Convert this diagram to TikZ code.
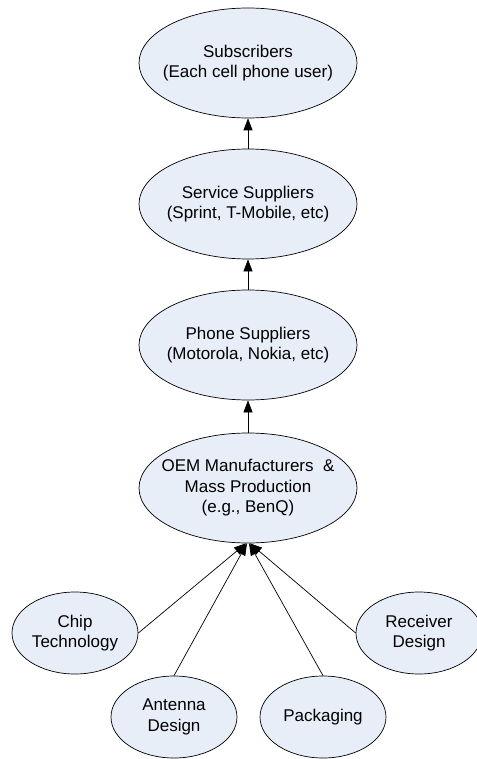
\documentclass[tikz,border=0pt]{standalone}
\usepackage{fontspec}
\setmainfont{Liberation Sans}
\usetikzlibrary{shapes.geometric,arrows.meta}
\definecolor{ellfill}{RGB}{232,238,248}
\tikzset{
  bigell/.style={ellipse, draw=black, fill=ellfill, line width=0.7pt, minimum width=218pt, minimum height=110pt, inner sep=0pt},
  smallell/.style={ellipse, draw=black, fill=ellfill, line width=0.7pt, minimum width=126pt, minimum height=82pt, inner sep=0pt},
  txt/.style={align=center, inner sep=0pt, font=\fontsize{17}{20.5}\selectfont},
  arr/.style={line width=0.7pt, -{Triangle[length=12pt,width=9pt]}}
}
\begin{document}
\begin{tikzpicture}[x=1pt,y=-1pt]
\useasboundingbox (0,0) rectangle (476,759);
\node[bigell, label={[txt]center:{Subscribers\\(Each cell phone user)}}] (sub) at (248,63) {};
\node[bigell, label={[txt]center:{Service Suppliers\\(Sprint, T-Mobile, etc)}}] (serv) at (248,204) {};
\node[bigell, label={[txt]center:{Phone Suppliers\\(Motorola, Nokia, etc)}}] (phone) at (248,345) {};
\node[bigell, label={[txt]center:{OEM Manufacturers \ \&\\Mass Production\\(e.g., BenQ)}}] (oem) at (248,488) {};
\node[smallell, label={[txt]center:{Chip\\Technology}}] (chip) at (75,633) {};
\node[smallell, label={[txt]center:{Antenna\\Design}}] (ant) at (174,717) {};
\node[smallell, label={[txt]center:{Packaging}}] (pack) at (323,717) {};
\node[smallell, label={[txt]center:{Receiver\\Design}}] (rec) at (419,633) {};
\draw[arr] (serv.north) -- (sub.south);
\draw[arr] (phone.north) -- (serv.south);
\draw[arr] (oem.north) -- (phone.south);
\draw[arr] (chip.east) -- ([xshift=-2pt]oem.south);
\draw[arr] (ant.north) -- ([xshift=-1pt]oem.south);
\draw[arr] (pack.north) -- ([xshift=1pt]oem.south);
\draw[arr] (rec.west) -- ([xshift=2pt]oem.south);
\end{tikzpicture}
\end{document}
